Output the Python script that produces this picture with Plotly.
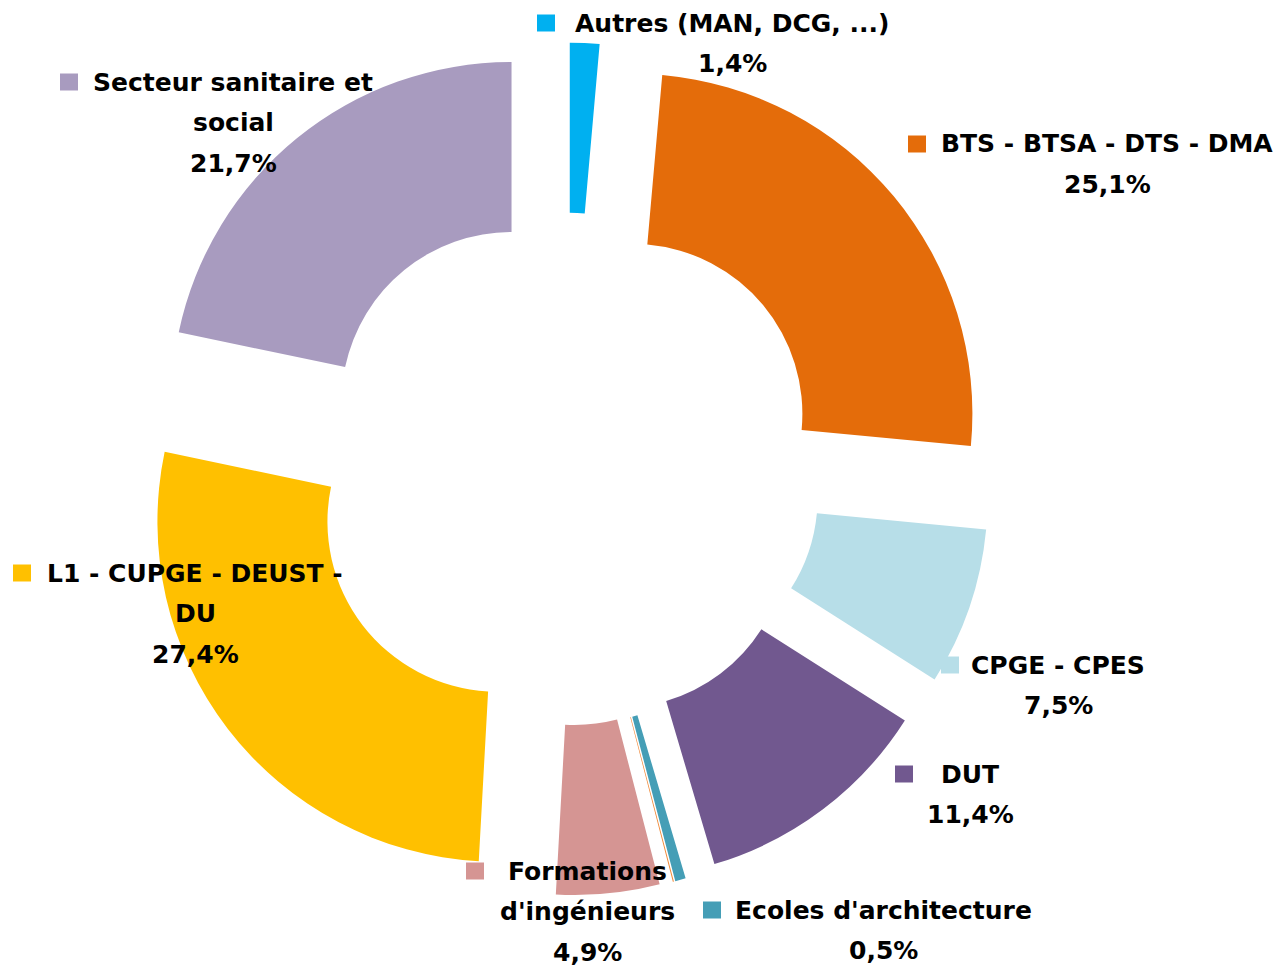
import plotly.graph_objects as go

# ---- data ----
categories = ["Autres (MAN, DCG, ...)", "BTS - BTSA - DTS - DMA", "CPGE - CPES", "DUT",
              "Ecoles d'architecture", "Autre (non libellé)", "Formations d'ingénieurs",
              "L1 - CUPGE - DEUST - DU", "Secteur sanitaire et social"]
values = [1.4, 25.1, 7.5, 11.4, 0.5, 0.05, 4.9, 27.4, 21.7]
colors = ["#00B0F0", "#E46C0A", "#B7DEE8", "#71588F", "#459EB6", "#F08A3A",
          "#D59593", "#FFC000", "#A89BBF"]

# label text lines (first line carries the legend key)
label_lines = [
    ["Autres (MAN, DCG, ...)"],
    ["BTS - BTSA - DTS - DMA"],
    ["CPGE - CPES"],
    ["DUT"],
    ["Ecoles d'architecture"],
    None,
    ["Formations", "d'ingénieurs"],
    ["L1 - CUPGE - DEUST -", "DU"],
    ["Secteur sanitaire et", "social"],
]
# label layout: (text centre x px, first line y px, key centre x px)
label_pos = [
    (732, 23, 546),
    (1107, 144, 917),
    (1058, 665, 950),
    (970, 774, 904),
    (884, 910, 712),
    None,
    (587, 871, 475),
    (195, 573, 22),
    (233, 82, 69),
]

W, H = 1276, 967
LINE = 40.5
KEY_W, KEY_H = 18, 17

fig = go.Figure(go.Pie(
    labels=categories, values=values, sort=False, direction="clockwise", rotation=0,
    hole=0.50, pull=[0.254] * len(values),
    marker=dict(colors=colors, line=dict(width=0)),
    textinfo="none", hoverinfo="label+percent", showlegend=False,
    domain=dict(x=[0, 0.8871], y=[0.0740, 0.9559]),
))

annotations = []
shapes = []
font = dict(family="DejaVu Sans", size=25, color="black", weight="bold")
for lines, pos, v, c in zip(label_lines, label_pos, values, colors):
    if lines is None:
        continue
    cx, y0, kx = pos
    all_lines = lines + [f"{v:.1f}".replace(".", ",") + "%"]
    for i, t in enumerate(all_lines):
        y = y0 + i * LINE
        annotations.append(dict(text=t, x=cx / W, y=1 - y / H, xref="paper", yref="paper",
                                xanchor="center", yanchor="middle", showarrow=False, font=font))
    shapes.append(dict(type="rect", xref="paper", yref="paper",
                       x0=(kx - KEY_W / 2) / W, x1=(kx + KEY_W / 2) / W,
                       y0=1 - (y0 + KEY_H / 2) / H, y1=1 - (y0 - KEY_H / 2) / H,
                       fillcolor=c, line=dict(width=0)))

fig.update_layout(width=W, height=H, margin=dict(l=0, r=0, t=0, b=0),
                  paper_bgcolor="white", plot_bgcolor="white",
                  annotations=annotations, shapes=shapes)
fig.write_html("out.html")
